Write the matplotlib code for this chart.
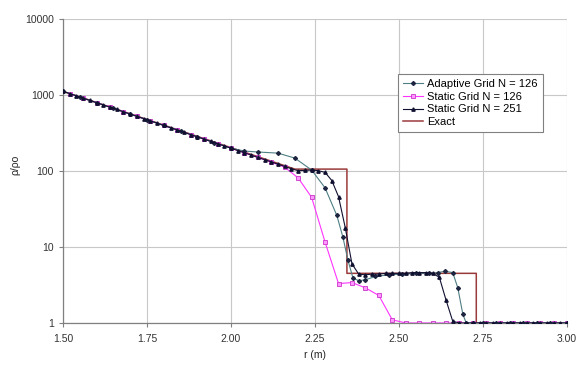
import matplotlib
matplotlib.use('Agg')
import matplotlib.pyplot as plt
from matplotlib.ticker import FixedLocator, NullLocator

# adaptive grid, N = 126 (non-uniform spacing, refined near the jumps)
r_adapt = [1.50, 1.55, 1.60, 1.65, 1.70, 1.75, 1.80, 1.85, 1.90, 1.95, 2.00, 2.04,
           2.08, 2.14, 2.19, 2.24, 2.28, 2.315, 2.333, 2.348, 2.363, 2.38, 2.40, 2.43,
           2.47, 2.51, 2.55, 2.59, 2.615, 2.637, 2.66, 2.675, 2.69, 2.70, 2.72, 2.75,
           2.79, 2.83, 2.87, 2.91, 2.95, 3.00]
rho_adapt = [1120, 944, 794, 668, 562, 473, 398, 335, 282, 237, 200, 183,
             178, 172, 148, 103, 60, 26, 13.5, 6.7, 3.9, 3.6, 3.7, 4.1,
             4.3, 4.4, 4.5, 4.5, 4.6, 4.8, 4.6, 2.9, 1.3, 1.0, 1.0, 1.0,
             1.0, 1.0, 1.0, 1.0, 1.0, 1.0]

# static grid, N = 126
r_s126 = [1.52, 1.56, 1.60, 1.64, 1.68, 1.72, 1.76, 1.80, 1.84, 1.88, 1.92, 1.96,
          2.00, 2.04, 2.08, 2.12, 2.16, 2.20, 2.24, 2.28, 2.32, 2.36, 2.40, 2.44,
          2.48, 2.52, 2.56, 2.60, 2.64, 2.68, 2.72, 2.76, 2.80, 2.84, 2.88, 2.92,
          2.96, 3.00]
rho_s126 = [1045, 912, 794, 692, 603, 525, 457, 398, 347, 302, 263, 229,
            200, 174, 151, 131, 112, 81, 45, 11.6, 3.3, 3.4, 2.9, 2.3,
            1.1, 1.0, 1.0, 1.0, 1.0, 1.0, 1.0, 1.0, 1.0, 1.0, 1.0, 1.0,
            1.0, 1.0]

# static grid, N = 251
r_s251 = [1.50, 1.52, 1.54, 1.56, 1.58, 1.60, 1.62, 1.64, 1.66, 1.68, 1.70, 1.72,
          1.74, 1.76, 1.78, 1.80, 1.82, 1.84, 1.86, 1.88, 1.90, 1.92, 1.94, 1.96,
          1.98, 2.00, 2.02, 2.04, 2.06, 2.08, 2.10, 2.12, 2.14, 2.16, 2.18, 2.20,
          2.22, 2.24, 2.26, 2.28, 2.30, 2.32, 2.34, 2.36, 2.38, 2.40, 2.42, 2.44,
          2.46, 2.48, 2.50, 2.52, 2.54, 2.56, 2.58, 2.60, 2.62, 2.64, 2.66, 2.68,
          2.70, 2.72, 2.74, 2.76, 2.78, 2.80, 2.82, 2.84, 2.86, 2.88, 2.90, 2.92,
          2.94, 2.96, 2.98, 3.00]
rho_s251 = [1120, 1045, 977, 912, 851, 794, 741, 692, 646, 603, 562, 525,
            490, 457, 427, 398, 372, 347, 324, 302, 282, 263, 245, 229,
            214, 200, 186, 174, 162, 151, 141, 132, 123, 115, 107, 101,
            102, 103, 101, 96, 75, 46, 18, 6.0, 4.4, 4.3, 4.4, 4.4,
            4.5, 4.5, 4.5, 4.5, 4.6, 4.6, 4.6, 4.5, 4.0, 2.0, 1.05, 1.0,
            1.0, 1.0, 1.0, 1.0, 1.0, 1.0, 1.0, 1.0, 1.0, 1.0, 1.0, 1.0,
            1.0, 1.0, 1.0, 1.0]

# exact solution
r_exact = [1.50, 2.19, 2.345, 2.345, 2.73, 2.73, 3.00]
rho_exact = [1120, 106, 106, 4.5, 4.5, 1.0, 1.0]

xticks = [1.50, 1.75, 2.00, 2.25, 2.50, 2.75, 3.00]
yticks = [1, 10, 100, 1000, 10000]

plt.rcParams['font.family'] = ['Liberation Sans', 'DejaVu Sans']

fig = plt.figure(figsize=(5.8, 3.67), dpi=100)
ax = fig.add_axes([0.1086, 0.120, 0.869, 0.828])

ax.plot(r_adapt, rho_adapt, color='#4f7f84', linewidth=0.8, marker='D',
        markersize=2.0, markerfacecolor='#1c2440', markeredgecolor='#1c2440',
        label='Adaptive Grid N = 126', zorder=3)
ax.plot(r_s126, rho_s126, color='#ff33ff', linewidth=0.8, marker='s',
        markersize=2.4, markerfacecolor='#ff99ff', markeredgecolor='#cc33cc',
        markeredgewidth=0.6, label='Static Grid N = 126', zorder=2)
ax.plot(r_s251, rho_s251, color='#101030', linewidth=0.8, marker='^',
        markersize=2.4, markerfacecolor='#101030', markeredgecolor='#101030',
        label='Static Grid N = 251', zorder=4)
ax.plot(r_exact, rho_exact, color='#9b3a3a', linewidth=1.1,
        label='Exact', zorder=1)

ax.set_yscale('log')
ax.set_xlim(1.5, 3.0)
ax.set_ylim(1, 10000)
ax.xaxis.set_major_locator(FixedLocator(xticks))
ax.yaxis.set_major_locator(FixedLocator(yticks))
ax.yaxis.set_minor_locator(NullLocator())
ax.set_xticklabels(['%.2f' % t for t in xticks])
ax.set_yticklabels([str(t) for t in yticks])

ax.grid(True, which='major', color='#c8c8c8', linewidth=0.8)
ax.set_axisbelow(True)
for side in ['top', 'right']:
    ax.spines[side].set_visible(False)
for side in ['left', 'bottom']:
    ax.spines[side].set_color('#808080')
    ax.spines[side].set_linewidth(0.9)
ax.tick_params(axis='both', labelsize=7.5, colors='#808080', labelcolor='#333333',
               length=3, width=0.8, direction='out')
ax.tick_params(axis='x', pad=5)

ax.set_xlabel('r (m)', fontsize=7.5, color='#222222', labelpad=4)
ax.set_ylabel('ρ/ρo', fontsize=7.5, color='#222222')
ax.yaxis.set_label_coords(-0.085, 0.52)

leg = ax.legend(loc='upper right', bbox_to_anchor=(0.963, 0.838), fontsize=8,
                frameon=True, fancybox=False, framealpha=1, edgecolor='#808080',
                borderpad=0.45, labelspacing=0.25, handlelength=1.8, handletextpad=0.4)
leg.get_frame().set_linewidth(0.8)

fig.savefig('out.png', dpi=100)
